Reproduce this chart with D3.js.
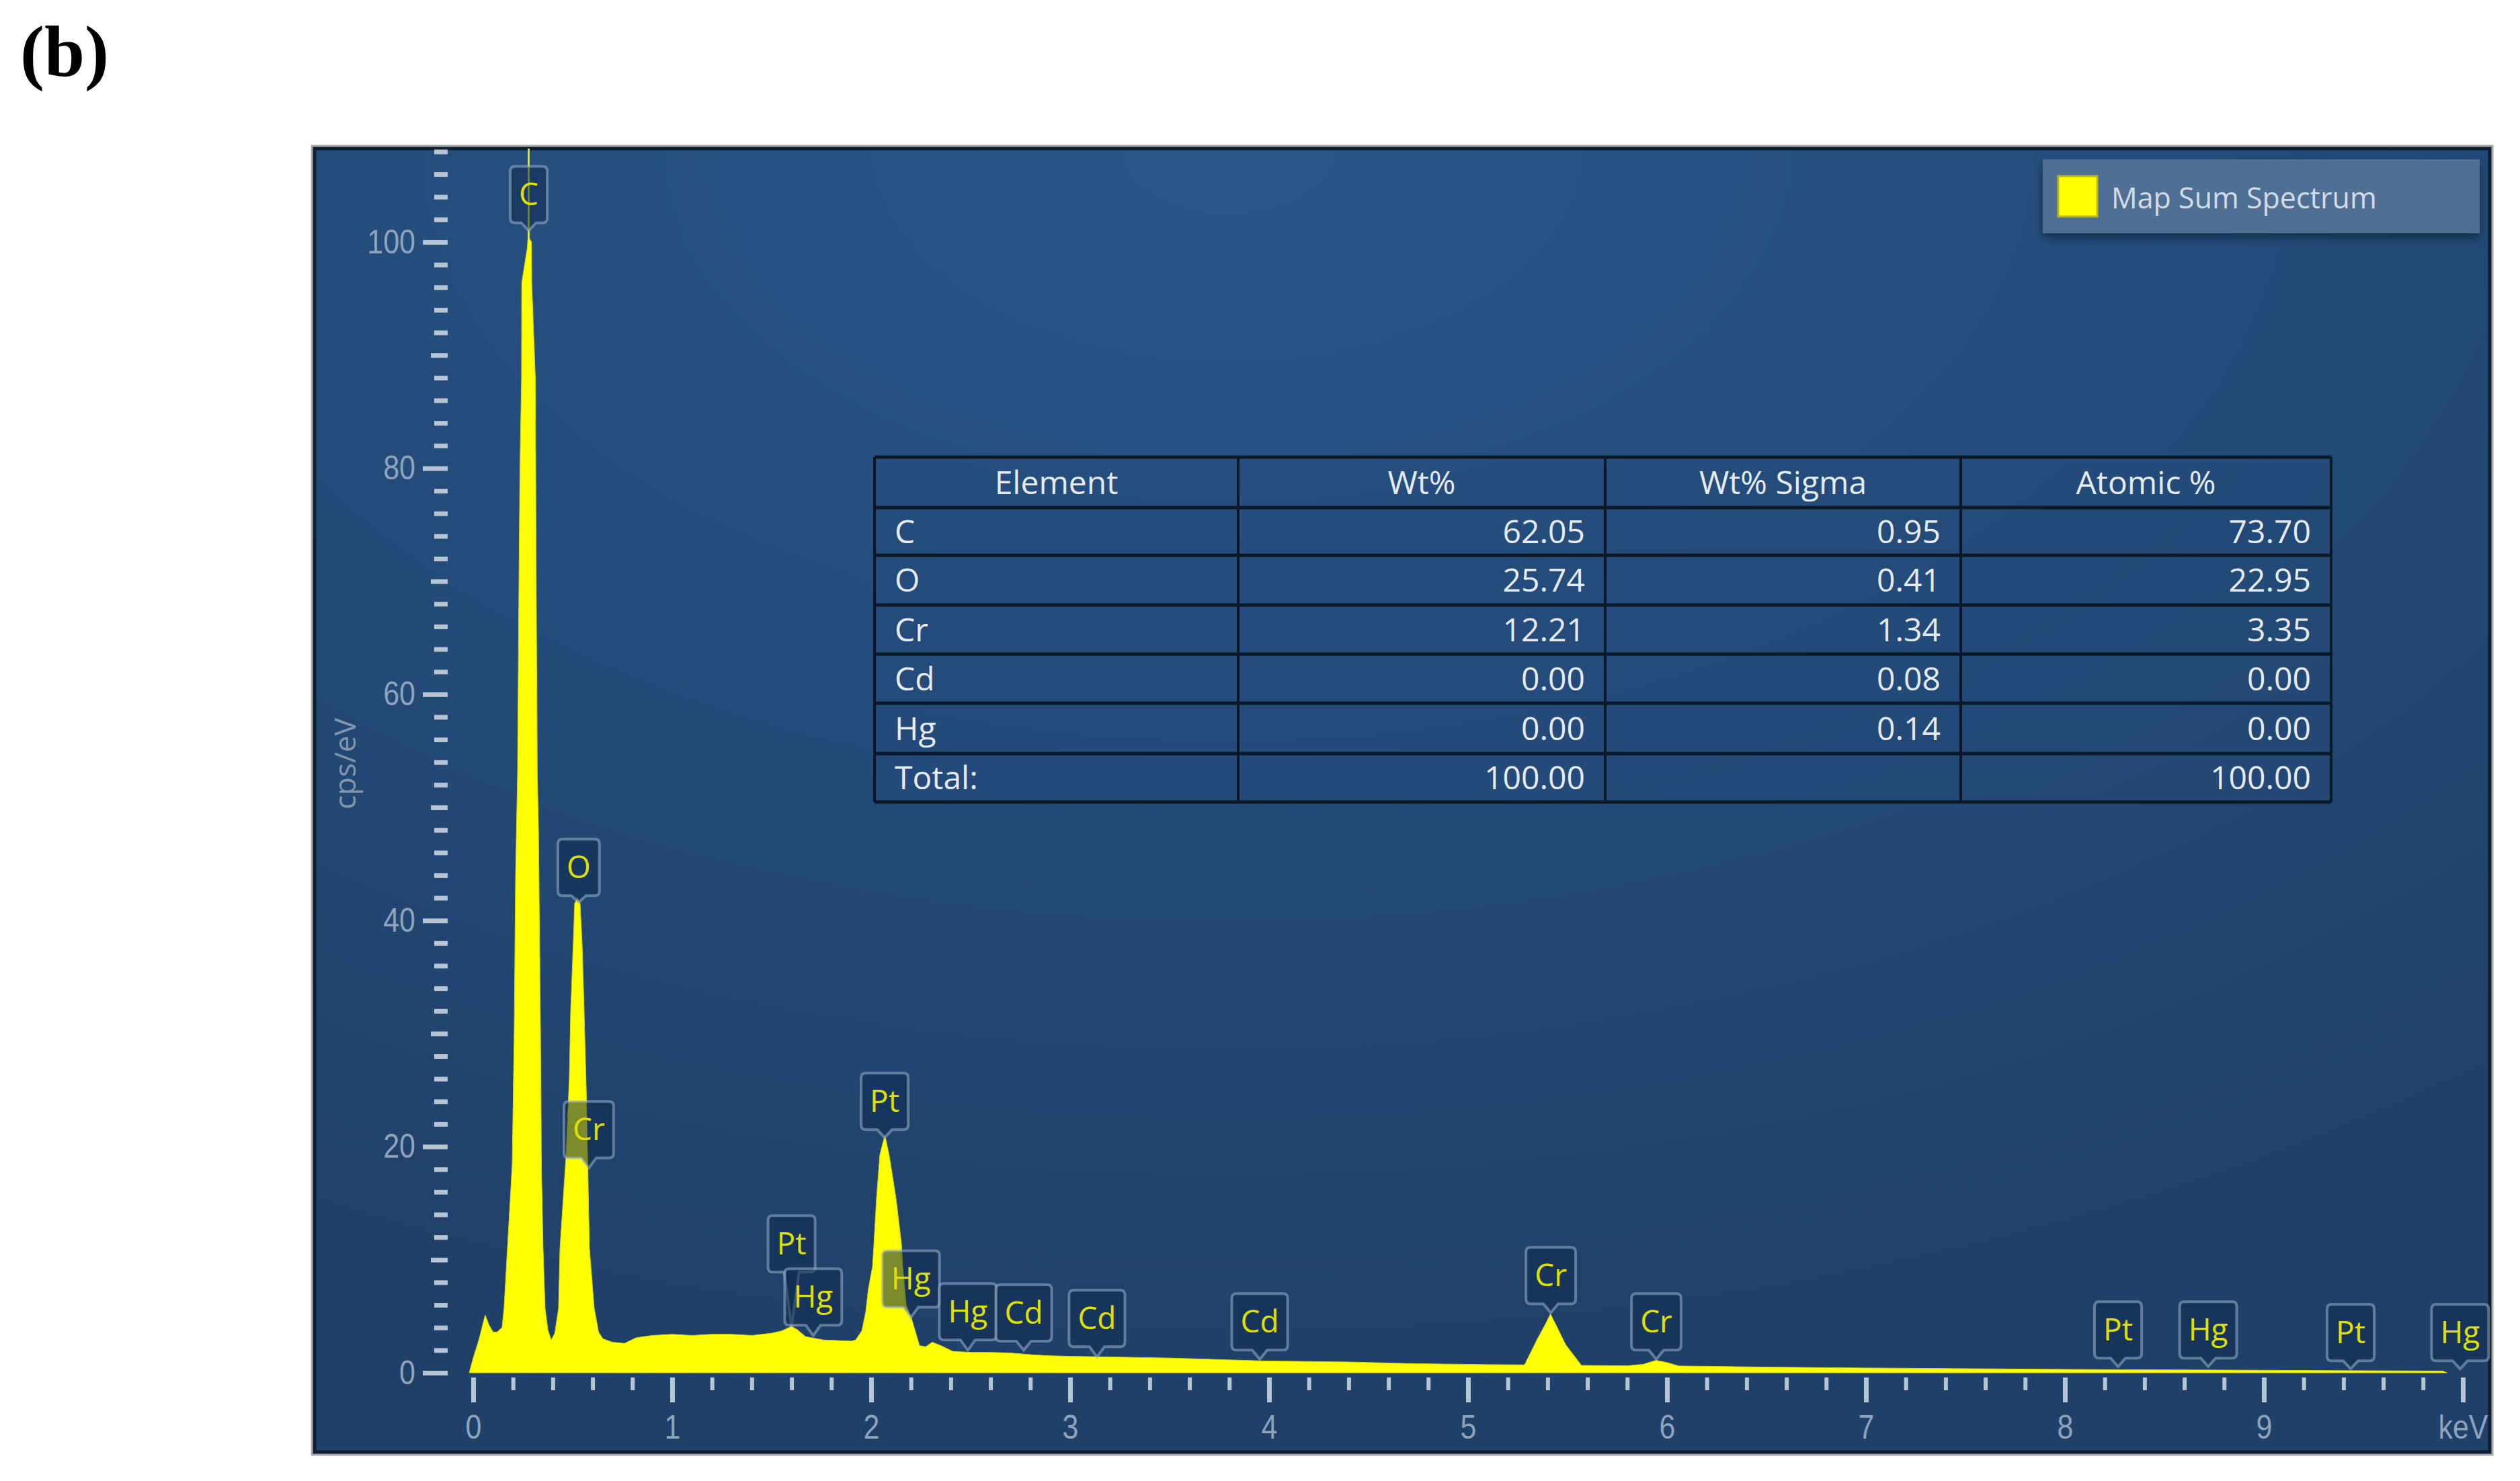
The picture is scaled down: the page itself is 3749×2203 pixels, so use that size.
<!DOCTYPE html>
<html>
<head>
<meta charset="utf-8">
<script src="https://cdn.jsdelivr.net/npm/d3@7"></script>
<style>
  html, body { margin: 0; padding: 0; background: #fff; }
  svg { display: block; }
</style>
</head>
<body>
<svg id="chart"></svg>
<script>
// EDS spectrum (keV / cps per eV)
const energy = [-0.02, 0.00, 0.03, 0.06, 0.08, 0.10, 0.12, 0.145, 0.155, 0.172, 0.196, 0.206, 0.213, 0.223, 0.230, 0.235,
  0.243, 0.244, 0.272, 0.275, 0.277, 0.281, 0.283, 0.293, 0.294, 0.312, 0.314, 0.318, 0.322, 0.328, 0.338, 0.343,
  0.351, 0.361, 0.375, 0.392, 0.41, 0.429, 0.436, 0.466, 0.483, 0.49, 0.503, 0.51, 0.524, 0.537, 0.547, 0.554,
  0.568, 0.584, 0.608, 0.63, 0.652, 0.70, 0.76, 0.82, 0.90, 1.00, 1.10, 1.20, 1.30, 1.40, 1.50, 1.55, 1.60, 1.63,
  1.67, 1.76, 1.90, 1.922, 1.953, 1.973, 1.986, 2.007, 2.014, 2.027, 2.044, 2.069, 2.09, 2.125, 2.152, 2.159,
  2.176, 2.199, 2.223, 2.243, 2.274, 2.307, 2.351, 2.409, 2.5, 2.6, 2.7, 2.8, 2.9, 3.0, 3.2, 3.5, 3.96, 4.4,
  4.74, 5.1, 5.284, 5.349, 5.389, 5.414, 5.44, 5.49, 5.57, 5.8, 5.88, 5.945, 6.0, 6.06, 6.5, 7.0, 7.5, 8.0,
  8.5, 9.0, 9.5, 9.9, 9.92]
const counts = [0, 1.3, 3.0, 5.1, 4.2, 3.6, 3.6, 4.0, 5.7, 11, 18.4, 30, 44, 53, 70, 80,
  88, 96.4, 99.5, 100.3, 116, 116, 100.3, 100, 96.4, 88, 80, 65, 53, 48, 30, 18,
  11, 5.7, 3.8, 2.9, 3.5, 5.7, 11, 19, 26, 32, 38, 41.5, 42, 41.5, 38, 34,
  25, 11, 5.7, 3.6, 3.0, 2.7, 2.6, 3.1, 3.3, 3.4, 3.3, 3.4, 3.4, 3.3, 3.5, 3.7, 4.1, 3.8,
  3.2, 2.9, 2.8, 2.9, 3.7, 5.4, 7.4, 9.4, 11.4, 15.4, 19.3, 21.0, 19.3, 15.4, 11.4, 9.4,
  6.0, 5.0, 3.6, 2.4, 2.3, 2.7, 2.4, 1.9, 1.8, 1.8, 1.75, 1.6, 1.5, 1.45, 1.4, 1.3, 1.05, 0.95,
  0.8, 0.72, 0.7, 3.0, 4.3, 5.2, 4.3, 2.5, 0.65, 0.62, 0.75, 1.1, 0.9, 0.6, 0.5, 0.42, 0.36, 0.3,
  0.26, 0.22, 0.18, 0.15, 0]

// element markers: line energy, where the pointer touches, where the box sits (cps/eV)
const markerNames = ["C", "O", "Cr", "Pt", "Hg", "Pt", "Hg", "Hg", "Cd", "Cd", "Cd", "Cr", "Cr", "Pt", "Hg", "Pt", "Hg"]
const markerKeV = [0.279, 0.53, 0.581, 1.60, 1.709, 2.068, 2.20, 2.486, 2.767, 3.135, 3.953, 5.416, 5.946, 8.267, 8.72, 9.436, 9.986]
const markerTip = [101.0, 41.6, 18.1, 4.1, 3.3, 20.8, 4.9, 2.0, 2.0, 1.4, 1.2, 5.3, 1.2, 0.55, 0.55, 0.35, 0.35]
const markerBox = [101.7, 42.2, 19.0, 8.9, 4.2, 21.5, 5.8, 2.9, 2.8, 2.3, 2.0, 6.1, 2.0, 1.3, 1.3, 1.05, 1.05]

// quantification table
const tableHead = ["Element", "Wt%", "Wt% Sigma", "Atomic %"]
const tableElements = ["C", "O", "Cr", "Cd", "Hg"]
const wtPct = [62.05, 25.74, 12.21, 0.00, 0.00]
const wtSigma = [0.95, 0.41, 1.34, 0.08, 0.14]
const atomicPct = [73.70, 22.95, 3.35, 0.00, 0.00]
const totalRow = ["Total:", "100.00", "", "100.00"]

const xTicks = d3.range(0, 11)
const yMajor = d3.range(0, 101, 20)
const yMid = [10, 30, 50, 70, 90]
const yMinor = d3.range(2, 109, 2).filter(v => v % 10 !== 0)
const xMinor = d3.range(0, 50).map(i => i / 5).filter(v => Math.abs(v - Math.round(v)) > 1e-6)
const legendName = "Map Sum Spectrum"

const W = 3749, H = 2203
const svg = d3.select("#chart").attr("width", W).attr("height", H)
const panel = { x: 468, y: 221, w: 3236, h: 1939 }
const x = d3.scaleLinear().domain([0, 10]).range([704, 3664])
const y = d3.scaleLinear().domain([0, 100]).range([2042, 360])

const defs = svg.append("defs")
const bg = defs.append("radialGradient").attr("id", "bg")
    .attr("cx", "42%").attr("cy", "0%").attr("r", "95%")
bg.append("stop").attr("offset", "0%").attr("stop-color", "#29568a")
bg.append("stop").attr("offset", "100%").attr("stop-color", "#1f4068")
defs.append("clipPath").attr("id", "plot")
    .append("rect").attr("x", panel.x).attr("y", panel.y).attr("width", panel.w).attr("height", panel.h)
const shadow = defs.append("filter").attr("id", "shadow").attr("x", "-10%").attr("y", "-20%").attr("width", "120%").attr("height", "160%")
shadow.append("feDropShadow").attr("dx", 0).attr("dy", 8).attr("stdDeviation", 7)
    .attr("flood-color", "#000").attr("flood-opacity", 0.35)

// frame
svg.append("rect")
    .attr("x", panel.x - 3).attr("y", panel.y - 3).attr("width", panel.w + 6).attr("height", panel.h + 6)
    .attr("fill", "none").attr("stroke", "#a9a9a9").attr("stroke-width", 5)
svg.append("rect")
    .attr("x", panel.x).attr("y", panel.y).attr("width", panel.w).attr("height", panel.h)
    .attr("fill", "url(#bg)").attr("stroke", "#0f1e33").attr("stroke-width", 5)

// table
const colX = [1301, 1842, 2388, 2917, 3468]
const rowY = [680, 755, 826, 900, 973, 1046, 1121, 1193]
const rows = [tableHead].concat(tableElements.map((el, i) =>
    [el, wtPct[i].toFixed(2), wtSigma[i].toFixed(2), atomicPct[i].toFixed(2)]), [totalRow])
const tg = svg.append("g").attr("font-family", "Open Sans").attr("font-size", 48).attr("fill", "#e6ebf1")
tg.append("rect").attr("x", colX[0]).attr("y", rowY[0]).attr("width", colX[4] - colX[0]).attr("height", rowY[7] - rowY[0])
    .attr("fill", "#24497a").attr("fill-opacity", 0.5)
rows.forEach((row, r) => {
    row.forEach((cell, c) => {
        const mid = (rowY[r] + rowY[r + 1]) / 2 + 17
        const t = tg.append("text").attr("y", mid).text(cell)
        if (r === 0) t.attr("x", (colX[c] + colX[c + 1]) / 2).attr("text-anchor", "middle")
        else if (c === 0) t.attr("x", colX[0] + 30)
        else t.attr("x", colX[c + 1] - 30).attr("text-anchor", "end")
    })
})
tg.append("g").attr("stroke", "#0b1828").attr("stroke-width", 5)
    .selectAll("line").data(rowY).join("line")
    .attr("x1", colX[0]).attr("x2", colX[4]).attr("y1", d => d).attr("y2", d => d)
tg.append("g").attr("stroke", "#0b1828").attr("stroke-width", 4)
    .selectAll("line").data(colX).join("line")
    .attr("y1", rowY[0]).attr("y2", rowY[7]).attr("x1", d => d).attr("x2", d => d)

// spectrum
const spectrum = energy.map((e, i) => ({ e, v: counts[i] }))
svg.append("path")
    .datum(spectrum)
    .attr("clip-path", "url(#plot)")
    .attr("fill", "#ffff00")
    .attr("stroke", "#d8d800").attr("stroke-width", 1)
    .attr("d", d3.area().x(d => x(d.e)).y0(y(0)).y1(d => y(d.v)))

// element markers
const markerPath = (cx, top, bottom, w, tipY) => {
    const r = 7, pw = 11, l = cx - w / 2, rr = cx + w / 2
    return `M${l + r},${top}H${rr - r}Q${rr},${top} ${rr},${top + r}V${bottom - r}Q${rr},${bottom} ${rr - r},${bottom}` +
        `H${cx + pw}L${cx},${tipY}L${cx - pw},${bottom}H${l + r}Q${l},${bottom} ${l},${bottom - r}V${top + r}Q${l},${top} ${l + r},${top}Z`
}
const markers = markerNames.map((name, i) => ({ name, keV: markerKeV[i], tip: markerTip[i], box: markerBox[i] }))
const mg = svg.append("g").attr("font-family", "Open Sans").attr("font-size", 46)
mg.selectAll("g").data(markers).join("g").each(function (d) {
    const g = d3.select(this)
    const cx = x(d.keV), bottom = y(d.box), top = bottom - 84
    const label = g.append("text")
        .attr("x", cx).attr("y", (top + bottom) / 2 + 16)
        .attr("text-anchor", "middle").attr("fill", "#e0e000")
        .text(d.name)
    const w = label.node().getComputedTextLength() + 26
    g.insert("path", "text")
        .attr("d", markerPath(cx, top, bottom, w, y(d.tip)))
        .attr("fill", "#102a4e").attr("fill-opacity", 0.55)
        .attr("stroke", "#9fb3cc").attr("stroke-opacity", 0.55).attr("stroke-width", 4)
})

// axes
const tickColor = "#b7c4d4", labelColor = "#8fa3bc", squeeze = 0.86
const styleAxis = (g, width) => {
    g.select(".domain").remove()
    g.selectAll(".tick line").attr("stroke", tickColor).attr("stroke-width", width)
    g.selectAll(".tick text").attr("fill", labelColor)
}
const yAxis = svg.append("g").attr("transform", "translate(666,0)")
    .attr("font-family", "Open Sans")
yAxis.append("g").call(d3.axisLeft(y).tickValues(yMinor).tickSize(20).tickFormat("")).call(g => styleAxis(g, 7))
yAxis.append("g").call(d3.axisLeft(y).tickValues(yMid).tickSize(25).tickFormat("")).call(g => styleAxis(g, 7))
yAxis.append("g").call(d3.axisLeft(y).tickValues(yMajor).tickSize(37).tickPadding(11))
    .call(g => styleAxis(g, 7))
    .call(g => g.selectAll(".tick text").attr("font-size", 50)
        .attr("x", -48 / squeeze).attr("transform", `scale(${squeeze},1)`))

const xAxis = svg.append("g").attr("transform", "translate(0,2049)")
    .attr("font-family", "Open Sans")
xAxis.append("g").call(d3.axisBottom(x).tickValues(xMinor).tickSize(19).tickFormat("")).call(g => styleAxis(g, 6))
xAxis.append("g").call(d3.axisBottom(x).tickValues(xTicks).tickSize(37).tickPadding(19)
        .tickFormat(d => d === 10 ? "keV" : d))
    .call(g => styleAxis(g, 7))
    .call(g => g.selectAll(".tick text").attr("font-size", 50).attr("transform", `scale(${squeeze},1)`))

svg.append("text")
    .attr("transform", "translate(529,1136) rotate(-90)")
    .attr("text-anchor", "middle")
    .attr("font-family", "Open Sans").attr("font-size", 44)
    .attr("fill", "#8195ae")
    .text("cps/eV")

// legend
const lg = svg.append("g").attr("font-family", "Open Sans")
lg.append("rect").attr("x", 3039).attr("y", 237).attr("width", 650).attr("height", 110)
    .attr("fill", "#4f6f94").attr("filter", "url(#shadow)")
lg.append("rect").attr("x", 3062).attr("y", 262).attr("width", 58).attr("height", 60)
    .attr("fill", "#ffff00").attr("stroke", "#b8b820").attr("stroke-width", 3)
lg.append("text").attr("x", 3141).attr("y", 310).attr("font-size", 43)
    .attr("fill", "#d3dce6").text(legendName)

// panel letter
svg.append("text")
    .attr("x", 30).attr("y", 113)
    .attr("font-family", "Liberation Serif").attr("font-weight", "bold").attr("font-size", 108)
    .attr("fill", "#000")
    .text("(b)")
</script>
</body>
</html>
